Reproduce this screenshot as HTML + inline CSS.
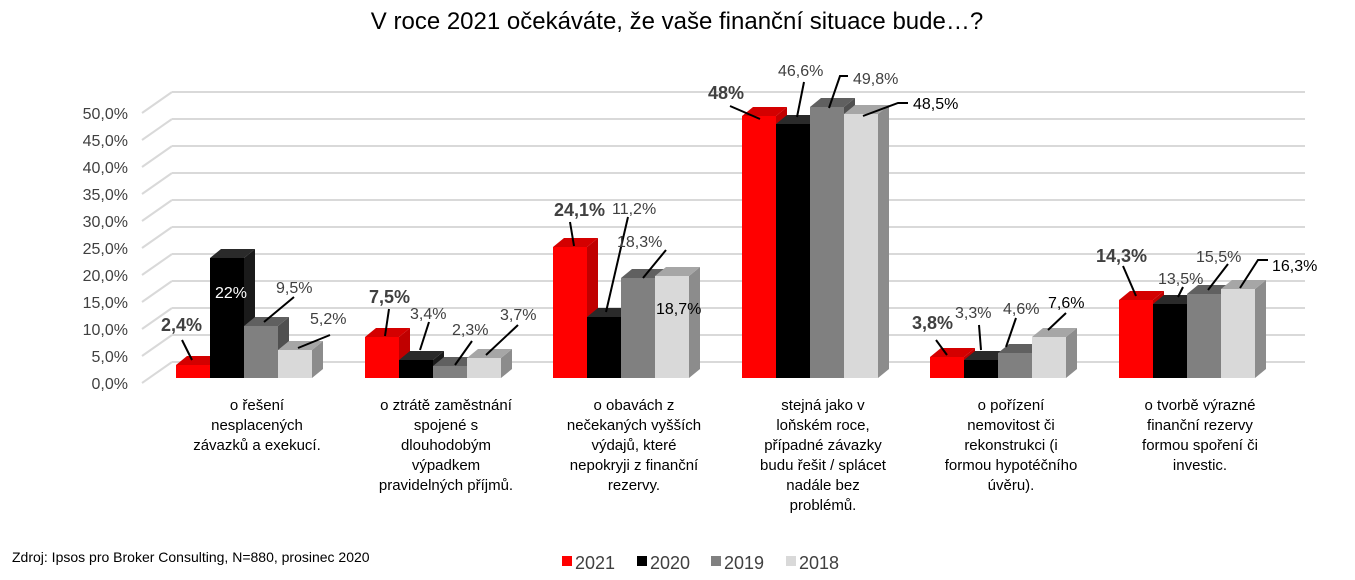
<!DOCTYPE html>
<html><head><meta charset="utf-8"><style>
body{margin:0;background:#fff;}
svg{display:block;font-family:"Liberation Sans",Arial,sans-serif;}
.r0{fill:#ff0000}.r1{fill:#c00000}.r2{fill:#d40000}
.k0{fill:#000}.k1{fill:#1a1a1a}.k2{fill:#2a2a2a}
.g0{fill:#808080}.g1{fill:#505050}.g2{fill:#606060}
.l0{fill:#d9d9d9}.l1{fill:#8c8c8c}.l2{fill:#a6a6a6}
</style></head><body>
<svg width="1355" height="580" viewBox="0 0 1355 580" xmlns="http://www.w3.org/2000/svg">
<text x="677" y="29" font-size="24" text-anchor="middle" fill="#000">V roce 2021 očekáváte, že vaše finanční situace bude…?</text>
<g stroke="#d9d9d9" stroke-width="2">
<line x1="172" y1="92" x2="1305" y2="92"/><line x1="142" y1="113" x2="172" y2="92"/>
<line x1="172" y1="119" x2="1305" y2="119"/><line x1="142" y1="140" x2="172" y2="119"/>
<line x1="172" y1="146" x2="1305" y2="146"/><line x1="142" y1="167" x2="172" y2="146"/>
<line x1="172" y1="173" x2="1305" y2="173"/><line x1="142" y1="194" x2="172" y2="173"/>
<line x1="172" y1="200" x2="1305" y2="200"/><line x1="142" y1="221" x2="172" y2="200"/>
<line x1="172" y1="227" x2="1305" y2="227"/><line x1="142" y1="248" x2="172" y2="227"/>
<line x1="172" y1="254" x2="1305" y2="254"/><line x1="142" y1="275" x2="172" y2="254"/>
<line x1="172" y1="281" x2="1305" y2="281"/><line x1="142" y1="302" x2="172" y2="281"/>
<line x1="172" y1="308" x2="1305" y2="308"/><line x1="142" y1="329" x2="172" y2="308"/>
<line x1="172" y1="335" x2="1305" y2="335"/><line x1="142" y1="356" x2="172" y2="335"/>
<line x1="172" y1="362" x2="1305" y2="362"/><line x1="142" y1="383" x2="172" y2="362"/>
</g>
<g font-size="16" fill="#404040" text-anchor="end">
<text x="128" y="119">50,0%</text><text x="128" y="146">45,0%</text><text x="128" y="173">40,0%</text>
<text x="128" y="200">35,0%</text><text x="128" y="227">30,0%</text><text x="128" y="254">25,0%</text>
<text x="128" y="281">20,0%</text><text x="128" y="308">15,0%</text><text x="128" y="335">10,0%</text>
<text x="128" y="362">5,0%</text><text x="128" y="389">0,0%</text>
</g>
<g>
<polygon class="r1" points="210,365 221,356 221,369 210,378"/><polygon class="r2" points="176,365 187,356 221,356 210,365"/><rect class="r0" x="176" y="365" width="34" height="13"/>
<polygon class="k1" points="244,258 255,249 255,369 244,378"/><polygon class="k2" points="210,258 221,249 255,249 244,258"/><rect class="k0" x="210" y="258" width="34" height="120"/>
<polygon class="g1" points="278,326 289,317 289,369 278,378"/><polygon class="g2" points="244,326 255,317 289,317 278,326"/><rect class="g0" x="244" y="326" width="34" height="52"/>
<polygon class="l1" points="312,350 323,341 323,369 312,378"/><polygon class="l2" points="278,350 289,341 323,341 312,350"/><rect class="l0" x="278" y="350" width="34" height="28"/>
<polygon class="r1" points="399,337 410,328 410,369 399,378"/><polygon class="r2" points="365,337 376,328 410,328 399,337"/><rect class="r0" x="365" y="337" width="34" height="41"/>
<polygon class="k1" points="433,360 444,351 444,369 433,378"/><polygon class="k2" points="399,360 410,351 444,351 433,360"/><rect class="k0" x="399" y="360" width="34" height="18"/>
<polygon class="g1" points="467,366 478,357 478,369 467,378"/><polygon class="g2" points="433,366 444,357 478,357 467,366"/><rect class="g0" x="433" y="366" width="34" height="12"/>
<polygon class="l1" points="501,358 512,349 512,369 501,378"/><polygon class="l2" points="467,358 478,349 512,349 501,358"/><rect class="l0" x="467" y="358" width="34" height="20"/>
<polygon class="r1" points="587,247 598,238 598,369 587,378"/><polygon class="r2" points="553,247 564,238 598,238 587,247"/><rect class="r0" x="553" y="247" width="34" height="131"/>
<polygon class="k1" points="621,317 632,308 632,369 621,378"/><polygon class="k2" points="587,317 598,308 632,308 621,317"/><rect class="k0" x="587" y="317" width="34" height="61"/>
<polygon class="g1" points="655,278 666,269 666,369 655,378"/><polygon class="g2" points="621,278 632,269 666,269 655,278"/><rect class="g0" x="621" y="278" width="34" height="100"/>
<polygon class="l1" points="689,276 700,267 700,369 689,378"/><polygon class="l2" points="655,276 666,267 700,267 689,276"/><rect class="l0" x="655" y="276" width="34" height="102"/>
<polygon class="r1" points="776,116 787,107 787,369 776,378"/><polygon class="r2" points="742,116 753,107 787,107 776,116"/><rect class="r0" x="742" y="116" width="34" height="262"/>
<polygon class="k1" points="810,124 821,115 821,369 810,378"/><polygon class="k2" points="776,124 787,115 821,115 810,124"/><rect class="k0" x="776" y="124" width="34" height="254"/>
<polygon class="g1" points="844,107 855,98 855,369 844,378"/><polygon class="g2" points="810,107 821,98 855,98 844,107"/><rect class="g0" x="810" y="107" width="34" height="271"/>
<polygon class="l1" points="878,114 889,105 889,369 878,378"/><polygon class="l2" points="844,114 855,105 889,105 878,114"/><rect class="l0" x="844" y="114" width="34" height="264"/>
<polygon class="r1" points="964,357 975,348 975,369 964,378"/><polygon class="r2" points="930,357 941,348 975,348 964,357"/><rect class="r0" x="930" y="357" width="34" height="21"/>
<polygon class="k1" points="998,360 1009,351 1009,369 998,378"/><polygon class="k2" points="964,360 975,351 1009,351 998,360"/><rect class="k0" x="964" y="360" width="34" height="18"/>
<polygon class="g1" points="1032,353 1043,344 1043,369 1032,378"/><polygon class="g2" points="998,353 1009,344 1043,344 1032,353"/><rect class="g0" x="998" y="353" width="34" height="25"/>
<polygon class="l1" points="1066,337 1077,328 1077,369 1066,378"/><polygon class="l2" points="1032,337 1043,328 1077,328 1066,337"/><rect class="l0" x="1032" y="337" width="34" height="41"/>
<polygon class="r1" points="1153,300 1164,291 1164,369 1153,378"/><polygon class="r2" points="1119,300 1130,291 1164,291 1153,300"/><rect class="r0" x="1119" y="300" width="34" height="78"/>
<polygon class="k1" points="1187,304 1198,295 1198,369 1187,378"/><polygon class="k2" points="1153,304 1164,295 1198,295 1187,304"/><rect class="k0" x="1153" y="304" width="34" height="74"/>
<polygon class="g1" points="1221,294 1232,285 1232,369 1221,378"/><polygon class="g2" points="1187,294 1198,285 1232,285 1221,294"/><rect class="g0" x="1187" y="294" width="34" height="84"/>
<polygon class="l1" points="1255,289 1266,280 1266,369 1255,378"/><polygon class="l2" points="1221,289 1232,280 1266,280 1255,289"/><rect class="l0" x="1221" y="289" width="34" height="89"/>
</g>
<g stroke="#000" stroke-width="2">
<line x1="182" y1="340" x2="192" y2="360"/><line x1="294" y1="297" x2="264" y2="322"/><line x1="330" y1="335" x2="298" y2="348"/>
<line x1="389" y1="309" x2="385" y2="336"/><line x1="429" y1="322" x2="420" y2="350"/><line x1="472" y1="341" x2="455" y2="365"/><line x1="518" y1="325" x2="486" y2="355"/>
<line x1="570" y1="222" x2="574" y2="246"/><line x1="628" y1="217" x2="606" y2="312"/><line x1="666" y1="250" x2="643" y2="278"/>
<line x1="730" y1="106" x2="760" y2="119"/><line x1="804" y1="82" x2="797" y2="117"/><polyline fill="none" points="848,76 840,76 829,108"/><polyline fill="none" points="908,103 898,103 863,116"/>
<line x1="936" y1="340" x2="947" y2="355"/><line x1="979" y1="325" x2="981" y2="350"/><line x1="1016" y1="318" x2="1006" y2="347"/><line x1="1066" y1="313" x2="1048" y2="330"/>
<line x1="1123" y1="266" x2="1136" y2="296"/><line x1="1183" y1="287" x2="1178" y2="297"/><line x1="1228" y1="264" x2="1208" y2="290"/><polyline fill="none" points="1268,260 1258,260 1240,288"/>
</g>
<g font-size="16" fill="#404040">
<text x="161" y="331" font-weight="bold" font-size="18">2,4%</text>
<text x="215" y="298" fill="#fff">22%</text>
<text x="276" y="293">9,5%</text><text x="310" y="324">5,2%</text>
<text x="369" y="303" font-weight="bold" font-size="18">7,5%</text>
<text x="410" y="319">3,4%</text><text x="452" y="335">2,3%</text><text x="500" y="320">3,7%</text>
<text x="554" y="216" font-weight="bold" font-size="18">24,1%</text>
<text x="612" y="214">11,2%</text><text x="617" y="247">18,3%</text><text x="656" y="314" fill="#000">18,7%</text>
<text x="708" y="99" font-weight="bold" font-size="18">48%</text>
<text x="778" y="76">46,6%</text><text x="853" y="84">49,8%</text><text x="913" y="109" fill="#000">48,5%</text>
<text x="912" y="329" font-weight="bold" font-size="18">3,8%</text>
<text x="955" y="318">3,3%</text><text x="1003" y="314">4,6%</text><text x="1048" y="308" fill="#000">7,6%</text>
<text x="1096" y="262" font-weight="bold" font-size="18">14,3%</text>
<text x="1158" y="284">13,5%</text><text x="1196" y="262">15,5%</text><text x="1272" y="271" fill="#000">16,3%</text>
</g>
<g font-size="15" fill="#000" text-anchor="middle">
<text x="257" y="410">o řešení</text><text x="257" y="430">nesplacených</text><text x="257" y="450">závazků a exekucí.</text>
<text x="446" y="410">o ztrátě zaměstnání</text><text x="446" y="430">spojené s</text><text x="446" y="450">dlouhodobým</text><text x="446" y="470">výpadkem</text><text x="446" y="490">pravidelných příjmů.</text>
<text x="634" y="410">o obavách z</text><text x="634" y="430">nečekaných vyšších</text><text x="634" y="450">výdajů, které</text><text x="634" y="470">nepokryji z finanční</text><text x="634" y="490">rezervy.</text>
<text x="823" y="410">stejná jako v</text><text x="823" y="430">loňském roce,</text><text x="823" y="450">případné závazky</text><text x="823" y="470">budu řešit / splácet</text><text x="823" y="490">nadále bez</text><text x="823" y="510">problémů.</text>
<text x="1011" y="410">o pořízení</text><text x="1011" y="430">nemovitost či</text><text x="1011" y="450">rekonstrukci (i</text><text x="1011" y="470">formou hypotéčního</text><text x="1011" y="490">úvěru).</text>
<text x="1200" y="410">o tvorbě výrazné</text><text x="1200" y="430">finanční rezervy</text><text x="1200" y="450">formou spoření či</text><text x="1200" y="470">investic.</text>
</g>
<text x="12" y="562" font-size="14" fill="#000">Zdroj: Ipsos pro Broker Consulting, N=880, prosinec 2020</text>
<g font-size="18" fill="#404040">
<rect x="562" y="556" width="10" height="10" fill="#ff0000"/><text x="575" y="569">2021</text>
<rect x="637" y="556" width="10" height="10" fill="#000"/><text x="650" y="569">2020</text>
<rect x="711" y="556" width="10" height="10" fill="#808080"/><text x="724" y="569">2019</text>
<rect x="786" y="556" width="10" height="10" fill="#d9d9d9"/><text x="799" y="569">2018</text>
</g>
</svg>
</body></html>
